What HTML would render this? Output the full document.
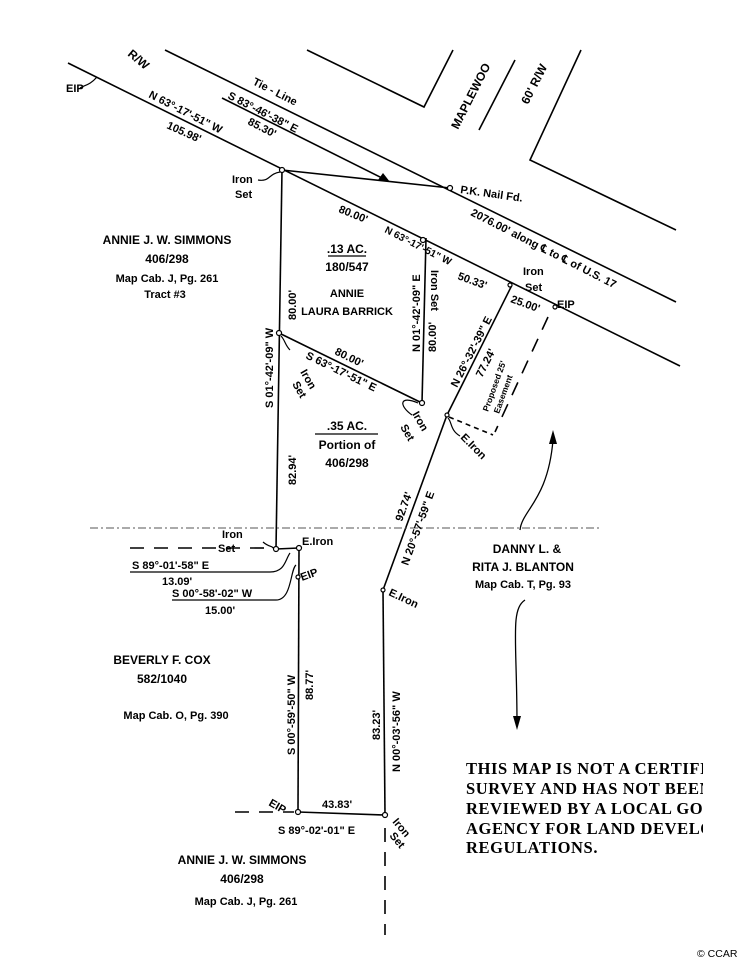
<!DOCTYPE html>
<html><head><meta charset="utf-8"><style>
html,body{margin:0;padding:0;background:#fff;}
svg{display:block;}
text{font-family:"Liberation Sans",sans-serif;font-weight:bold;font-size:11px;fill:#000;}
.m{font-size:12px;}
.d{font-family:"Liberation Serif",serif;font-size:16.5px;font-weight:bold;letter-spacing:0.6px;}
</style></head><body>
<svg width="741" height="960" viewBox="0 0 741 960" xmlns="http://www.w3.org/2000/svg">
<defs><clipPath id="c"><rect x="0" y="0" width="703" height="960"/></clipPath></defs>
<g stroke="#000" stroke-width="1.6" fill="none">
<line x1="165" y1="50" x2="676" y2="302"/>
<line x1="68" y1="63" x2="680" y2="366"/>
<polyline points="307,50 424,107 453,50"/>
<line x1="479" y1="130" x2="515" y2="60"/>
<polyline points="581,50 530,160 676,230"/>
<line x1="282" y1="170" x2="450" y2="188"/>
<line x1="222" y1="98" x2="386" y2="180"/>
<line x1="282" y1="170" x2="276" y2="549"/>
<line x1="279" y1="333" x2="422" y2="403"/>
<line x1="426" y1="238" x2="422" y2="403"/>
<line x1="447" y1="415" x2="512" y2="285"/>
<line x1="447" y1="415" x2="383" y2="590"/>
<line x1="383" y1="590" x2="385" y2="815"/>
<line x1="276" y1="549" x2="299" y2="548"/>
<line x1="299" y1="548" x2="298" y2="812"/>
<line x1="298" y1="812" x2="385" y2="815"/>
<g stroke-dasharray="14,10">
<line x1="130" y1="548" x2="272" y2="548"/>
<line x1="235" y1="812" x2="294" y2="812"/>
<line x1="385" y1="828" x2="385" y2="935"/>
<line x1="548" y1="317" x2="495" y2="432"/>
</g>
<line x1="449" y1="417" x2="493" y2="435" stroke-dasharray="5,4"/>
<line x1="90" y1="528" x2="600" y2="528" stroke-width="1" stroke-dasharray="8,3,2,3" stroke="#555"/>
<line x1="130" y1="572" x2="270" y2="572" stroke-width="1.2"/>
<line x1="172" y1="600" x2="276" y2="600" stroke-width="1.2"/>
<line x1="328" y1="256" x2="366" y2="256" stroke-width="1.2"/>
<line x1="315" y1="434" x2="378" y2="434" stroke-width="1.2"/>
<path d="M270,572 C285,572 285,560 290,553" stroke-width="1.2"/>
<path d="M276,600 C292,600 290,570 296,565" stroke-width="1.2"/>
<path d="M258,180 C270,182 268,174 280,172" stroke-width="1.2"/>
<path d="M290,350 C285,345 285,340 281,336" stroke-width="1.2"/>
<path d="M412,415 C398,405 400,395 418,403" stroke-width="1.2"/>
<path d="M460,436 C450,430 452,422 448,418" stroke-width="1.2"/>
<path d="M263,542 C270,548 272,545 274,549" stroke-width="1.2"/>
<path d="M520,530 C522,510 548,500 553,440" stroke-width="1.3"/>
<path d="M525,600 C510,610 517,640 517,725" stroke-width="1.3"/>
<path d="M97,77 C90,85 85,85 80,88" stroke-width="1.2"/>
</g>
<g fill="#000">
<polygon points="553,430 549,444 557,444"/>
<polygon points="517,730 513,716 521,716"/>
<polygon points="390,182 378,180 383,173"/>
</g>
<g fill="#fff" stroke="#000" stroke-width="1.2">
<circle cx="282" cy="170" r="2.5"/><circle cx="279" cy="333" r="2.5"/>
<circle cx="423" cy="240" r="2.5"/><circle cx="422" cy="403" r="2.5"/>
<circle cx="276" cy="549" r="2.5"/><circle cx="299" cy="548" r="2.5"/>
<circle cx="298" cy="577" r="2"/><circle cx="383" cy="590" r="2"/>
<circle cx="298" cy="812" r="2.5"/><circle cx="385" cy="815" r="2.5"/>
<circle cx="450" cy="188" r="2.5"/><circle cx="510" cy="285" r="2"/>
<circle cx="555" cy="307" r="2"/><circle cx="447" cy="415" r="2"/>
</g>

<text transform="translate(127,55) rotate(40)" class="m">R/W</text>
<text x="66" y="92">EIP</text>
<text transform="translate(252,84) rotate(27)">Tie - Line</text>
<text transform="translate(227,98) rotate(27)">S 83°-46'-38" E</text>
<text transform="translate(247,124) rotate(27)">85.30'</text>
<text transform="translate(148,97) rotate(27)">N 63°-17'-51" W</text>
<text transform="translate(166,128) rotate(24)">105.98'</text>
<text transform="translate(460,193) rotate(8)">P.K. Nail Fd.</text>
<text transform="translate(470,215) rotate(27)">2076.00' along ℄ to ℄ of U.S. 17</text>
<text transform="translate(458,130) rotate(-63)" class="m">MAPLEWOO</text>
<text transform="translate(528,105) rotate(-63)" class="m">60' R/W</text>
<text transform="translate(338,212) rotate(22)">80.00'</text>
<text transform="translate(384,232) rotate(27)" style="font-size:10px">N 63°-17'-51" W</text>
<text transform="translate(457,279) rotate(20)">50.33'</text>
<text transform="translate(510,302) rotate(20)">25.00'</text>
<text x="523" y="275">Iron</text><text x="525" y="291">Set</text>
<text x="557" y="308">EIP</text>
<text x="232" y="183">Iron</text><text x="235" y="198">Set</text>

<text x="167" y="244" text-anchor="middle" class="m">ANNIE J. W. SIMMONS</text>
<text x="167" y="263" text-anchor="middle" class="m">406/298</text>
<text x="167" y="282" text-anchor="middle">Map Cab. J, Pg. 261</text>
<text x="165" y="298" text-anchor="middle">Tract #3</text>
<text x="347" y="253" text-anchor="middle" class="m">.13 AC.</text>
<text x="347" y="271" text-anchor="middle" class="m">180/547</text>
<text x="347" y="297" text-anchor="middle">ANNIE</text>
<text x="347" y="315" text-anchor="middle">LAURA BARRICK</text>
<text x="347" y="430" text-anchor="middle" class="m">.35 AC.</text>
<text x="347" y="449" text-anchor="middle" class="m">Portion of</text>
<text x="347" y="467" text-anchor="middle" class="m">406/298</text>
<text x="527" y="553" text-anchor="middle" class="m">DANNY L. &amp;</text>
<text x="523" y="571" text-anchor="middle" class="m">RITA J. BLANTON</text>
<text x="523" y="588" text-anchor="middle">Map Cab. T, Pg. 93</text>
<text x="162" y="664" text-anchor="middle" class="m">BEVERLY F. COX</text>
<text x="162" y="683" text-anchor="middle" class="m">582/1040</text>
<text x="176" y="719" text-anchor="middle">Map Cab. O, Pg. 390</text>
<text x="242" y="864" text-anchor="middle" class="m">ANNIE J. W. SIMMONS</text>
<text x="242" y="883" text-anchor="middle" class="m">406/298</text>
<text x="246" y="905" text-anchor="middle">Map Cab. J, Pg. 261</text>

<text transform="translate(273,408) rotate(-90)">S 01°-42'-09" W</text>
<text transform="translate(296,320) rotate(-90)">80.00'</text>
<text transform="translate(296,485) rotate(-90)">82.94'</text>
<text transform="translate(420,352) rotate(-90)">N 01°-42'-09" E</text>
<text transform="translate(436,352) rotate(-90)">80.00'</text>
<text transform="translate(431,270) rotate(90)">Iron Set</text>
<text transform="translate(334,354) rotate(26)">80.00'</text>
<text transform="translate(305,358) rotate(26)">S 63°-17'-51" E</text>
<text transform="translate(300,372) rotate(60)">Iron</text>
<text transform="translate(292,384) rotate(60)">Set</text>
<text transform="translate(412,414) rotate(60)">Iron</text>
<text transform="translate(400,427) rotate(60)">Set</text>
<text transform="translate(457,388) rotate(-63)">N 26°-32'-39" E</text>
<text transform="translate(482,378) rotate(-63)">77.24'</text>
<text transform="translate(488,412) rotate(-70)" style="font-size:8.5px">Proposed 25'</text>
<text transform="translate(499,414) rotate(-70)" style="font-size:8.5px">Easement</text>
<text transform="translate(460,438) rotate(45)">E.Iron</text>
<text transform="translate(402,522) rotate(-70)">92.74'</text>
<text transform="translate(408,566) rotate(-70)">N 20°-57'-59" E</text>
<text transform="translate(388,595) rotate(25)">E.Iron</text>
<text x="302" y="545">E.Iron</text>
<text transform="translate(302,581) rotate(-20)">EIP</text>
<text x="222" y="538">Iron</text><text x="218" y="552">Set</text>
<text x="132" y="569">S 89°-01'-58" E</text>
<text x="162" y="585">13.09'</text>
<text x="172" y="597">S 00°-58'-02" W</text>
<text x="205" y="614">15.00'</text>
<text transform="translate(295,755) rotate(-90)">S 00°-59'-50" W</text>
<text transform="translate(313,700) rotate(-90)">88.77'</text>
<text transform="translate(380,740) rotate(-90)">83.23'</text>
<text transform="translate(400,772) rotate(-90)">N 00°-03'-56" W</text>
<text x="322" y="808">43.83'</text>
<text x="278" y="834">S 89°-02'-01" E</text>
<text transform="translate(268,805) rotate(30)">EIP</text>
<text transform="translate(392,822) rotate(50)">Iron</text>
<text transform="translate(389,836) rotate(50)">Set</text>

<g clip-path="url(#c)">
<text class="d" x="466" y="774">THIS MAP IS NOT A CERTIFIED</text>
<text class="d" x="466" y="794">SURVEY AND HAS NOT BEEN</text>
<text class="d" x="466" y="814">REVIEWED BY A LOCAL GOVERNMENT</text>
<text class="d" x="466" y="834">AGENCY FOR LAND DEVELOPMENT</text>
<text class="d" x="466" y="853">REGULATIONS.</text>
</g>
<text x="697" y="957" style="font-weight:normal;font-size:10.5px">© CCAR</text>
</svg>
</body></html>
